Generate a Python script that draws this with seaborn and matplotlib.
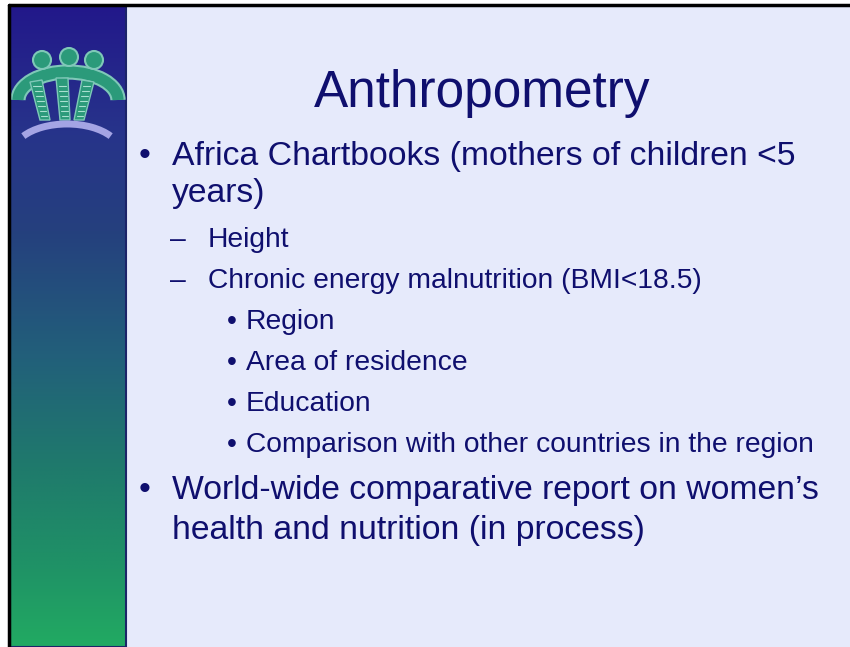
import numpy as np
import matplotlib
matplotlib.use("Agg")
import matplotlib.pyplot as plt
from matplotlib.colors import LinearSegmentedColormap
from matplotlib.patches import Circle, Rectangle, Arc, Polygon
import seaborn as sns

# Testo della slide
titolo = "Anthropometry"
righe = [
    # (livello, simbolo, testo, baseline y)
    (1, "•", "Africa Chartbooks (mothers of children <5", 165),
    (1, "", "years)", 202),
    (2, "–", "Height", 247),
    (2, "–", "Chronic energy malnutrition (BMI<18.5)", 288),
    (3, "•", "Region", 329),
    (3, "•", "Area of residence", 370),
    (3, "•", "Education", 411),
    (3, "•", "Comparison with other countries in the region", 452),
    (1, "•", "World-wide comparative report on women\u2019s", 499),
    (1, "", "health and nutrition (in process)", 539),
]

sns.set_theme(style="white")
plt.rcParams['font.family'] = ['Liberation Sans', 'DejaVu Sans']

W, H = 850, 647
fig = plt.figure(figsize=(8.5, 6.47), dpi=100)
ax = fig.add_axes([0, 0, 1, 1])
ax.set_xlim(0, W)
ax.set_ylim(H, 0)
ax.axis('off')
fig.patch.set_facecolor('white')

navy = '#0f0f6e'

# sfondo della slide
ax.add_patch(Rectangle((10, 6), W - 10, H - 6, facecolor='#e6eafb', edgecolor='none', zorder=0))

# barra laterale con gradiente blu -> verde
cmap = LinearSegmentedColormap.from_list(
    'barra', [(0, '#22188a'), (0.2, '#27348a'), (0.35, '#25407e'),
              (0.55, '#22607a'), (0.72, '#1f7a6c'), (0.88, '#1f9366'), (1, '#22aa62')])
grad = np.linspace(0, 1, 256).reshape(-1, 1)
ax.imshow(grad, cmap=cmap, aspect='auto', extent=[10, 126, H, 6], zorder=1)
ax.add_patch(Rectangle((10, 6), 116, H - 6, facecolor='none', edgecolor='#1c2468', lw=1.5, zorder=2))

# logo: tre figure
verde = '#2b9a7a'
bordo = '#7fc8b8'
ax.add_patch(Arc((68, 100), 100, 56, theta1=180, theta2=360, color=bordo, lw=11, zorder=3))
ax.add_patch(Arc((68, 100), 100, 56, theta1=180, theta2=360, color=verde, lw=8, zorder=3))
gambe = [[[30, 82], [42, 80], [50, 120], [40, 120]],
         [[56, 78], [68, 78], [70, 120], [60, 120]],
         [[82, 80], [94, 82], [84, 120], [74, 120]]]
for g in gambe:
    ax.add_patch(Polygon(g, closed=True, facecolor=verde, edgecolor=bordo, lw=1, zorder=3))
    for yy in range(86, 118, 5):
        t = (yy - 80) / 40
        xa = g[0][0] + (g[3][0] - g[0][0]) * t + 2
        xb = g[1][0] + (g[2][0] - g[1][0]) * t - 2
        ax.plot([xa, xb], [yy, yy], color='#a8e0d0', lw=0.8, zorder=4)
for cx, cy in [(42, 60), (69, 57), (94, 60)]:
    ax.add_patch(Circle((cx, cy), 9, facecolor=verde, edgecolor=bordo, lw=1.5, zorder=3))
ax.add_patch(Arc((67, 152), 106, 56, theta1=200, theta2=340, color='#a4a4e4', lw=5, zorder=3))

# bordo nero
ax.plot([9, 9], [5, H], color='black', lw=2.5, zorder=5)
ax.plot([9, W], [5, 5], color='black', lw=2.5, zorder=5)

# titolo
ax.text(482, 107, titolo, fontsize=37, color=navy, ha='center', va='baseline', zorder=6)

# elenco puntato
stili = {1: (145, 172, 24.3), 2: (178, 208, 20.3), 3: (232, 246, 20.3)}
for livello, sim, testo, yb in righe:
    xs, xt, fs = stili[livello]
    if sim:
        ax.text(xs, yb, sim, fontsize=fs, color=navy, ha='center', va='baseline', zorder=6)
    ax.text(xt, yb, testo, fontsize=fs, color=navy, ha='left', va='baseline', zorder=6)

plt.savefig('out.png', dpi=100)
